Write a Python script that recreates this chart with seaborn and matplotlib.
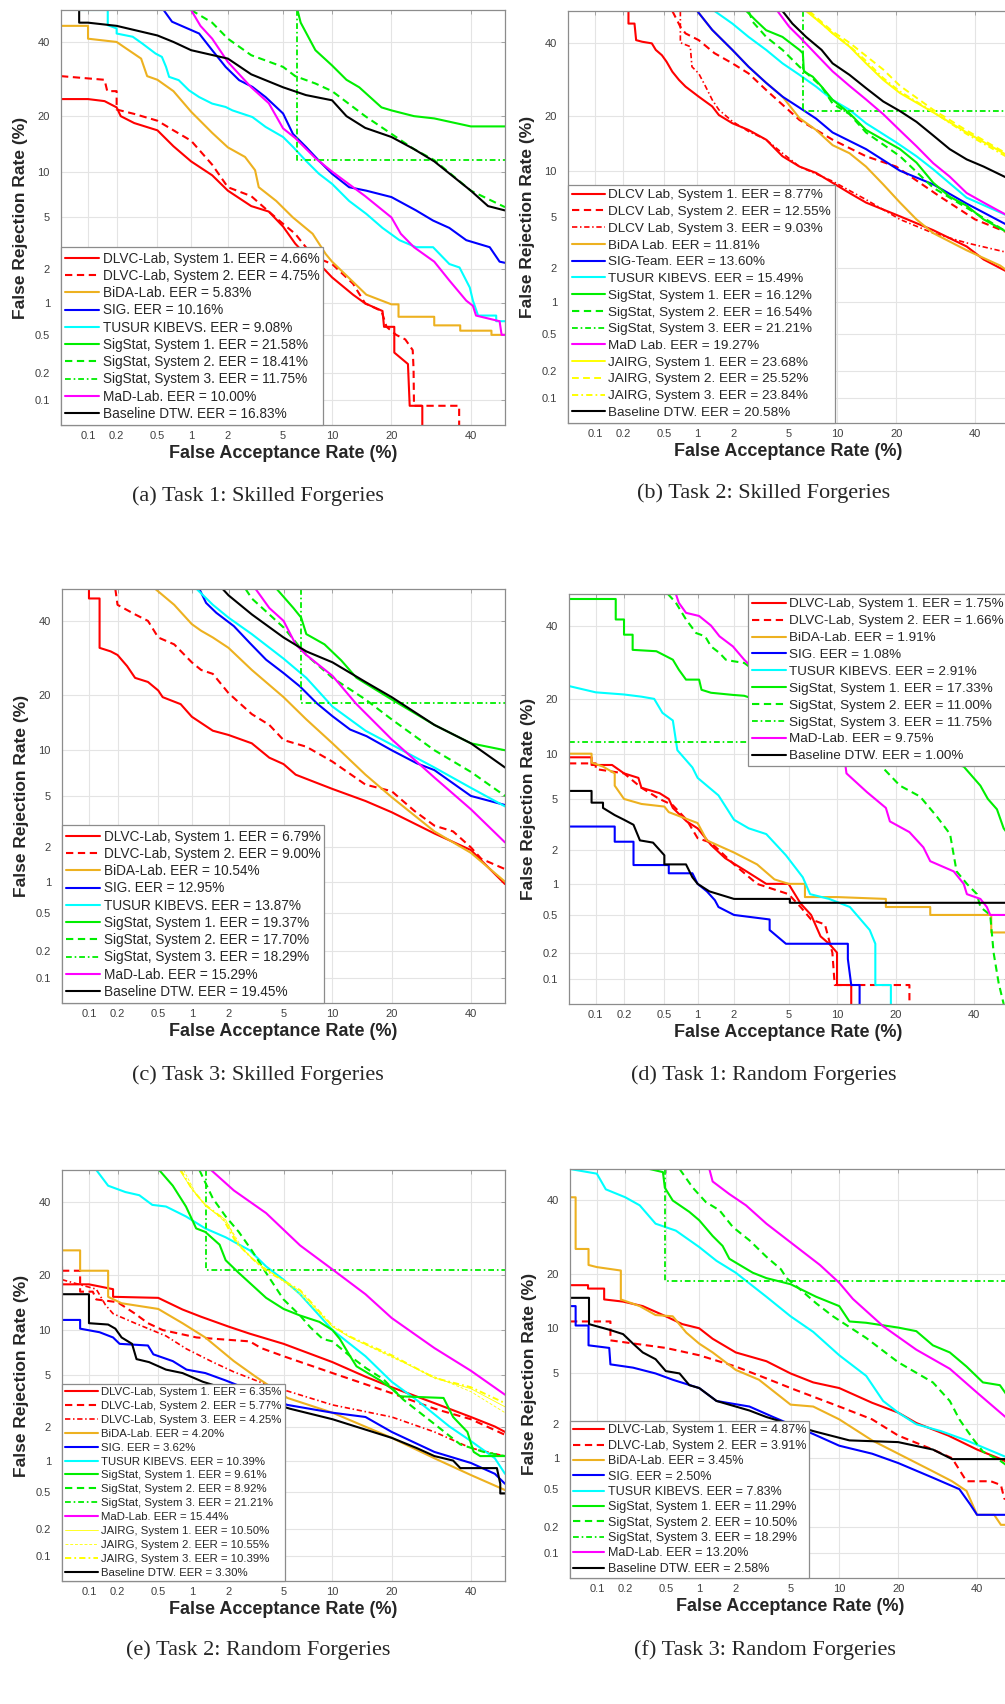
from statistics import NormalDist

import matplotlib
matplotlib.use("Agg")
import matplotlib.pyplot as plt
import numpy as np
import seaborn as sns
from matplotlib.ticker import NullLocator

# ---------------------------------------------------------------- data
# every curve: list of (FAR %, FRR %) points

TICKS = [0.1, 0.2, 0.5, 1, 2, 5, 10, 20, 40]
TICK_LABELS = ["0.1", "0.2", "0.5", "1", "2", "5", "10", "20", "40"]

# (a) Task 1: Skilled Forgeries
A_LABELS = [
    "DLVC-Lab, System 1. EER = 4.66%", "DLVC-Lab, System 2. EER = 4.75%",
    "BiDA-Lab. EER = 5.83%", "SIG. EER = 10.16%", "TUSUR KIBEVS. EER = 9.08%",
    "SigStat, System 1. EER = 21.58%", "SigStat, System 2. EER = 18.41%",
    "SigStat, System 3. EER = 11.75%", "MaD-Lab. EER = 10.00%",
    "Baseline DTW. EER = 16.83%",
]
A_CURVES = [
    [(0.05, 24), (0.1, 24), (0.15, 23.5), (0.2, 22), (0.22, 20), (0.3, 18.5), (0.5, 17), (0.7, 14),
     (1, 11.5), (1.5, 9.5), (2, 7.6), (3, 6), (4, 5.5), (5, 4.3), (6, 3.2), (7, 2.6), (9, 2), (10, 1.7),
     (13, 1.2), (15, 1.0), (18.2, 0.85), (18.5, 0.6), (20.6, 0.6), (20.6, 0.33), (23.6, 0.25),
     (24, 0.085), (27, 0.085), (27, 0.05)],
    [(0.05, 30), (0.15, 29), (0.16, 26), (0.2, 26), (0.2, 21.5), (0.3, 20.5), (0.5, 19), (0.7, 17),
     (1, 15), (1.5, 11), (2, 8), (3, 7), (4, 5.5), (5, 4.5), (6, 3.8), (7, 3.0), (8, 2.5), (10, 2.2),
     (13, 1.5), (15, 1.0), (18, 0.85), (19, 0.6), (21, 0.5), (23, 0.45), (24.7, 0.35), (24.9, 0.22),
     (25, 0.085), (36.7, 0.085), (36.7, 0.05)],
    [(0.05, 45), (0.1, 45), (0.1, 41), (0.2, 40), (0.25, 38), (0.35, 35), (0.4, 30), (0.5, 29),
     (0.7, 26), (1, 21), (1.5, 16.5), (2, 13.8), (2.7, 12.2), (3.2, 10.2), (3.4, 8), (4.5, 6.5),
     (5.8, 5), (7.7, 3.8), (9.2, 2.65), (10, 2.3), (15.2, 1.2), (20, 0.98), (21.5, 0.98), (21.5, 0.75),
     (30, 0.75), (30, 0.62), (37, 0.62), (37, 0.55), (46, 0.55), (46, 0.5), (50, 0.5)],
    [(0.57, 50), (0.68, 46.3), (1.17, 42.6), (1.5, 37.5), (1.92, 32.6), (2.44, 28.9), (3.06, 27.1),
     (3.8, 24.5), (5, 20.6), (5.8, 16.3), (7, 13.9), (8.4, 11.6), (10, 9.7), (12.4, 8), (15.2, 7.6),
     (20, 6.9), (25.5, 5.6), (29.7, 4.75), (34, 4.2), (38.7, 3.4), (45.5, 3.0), (48.4, 2.3), (50, 2.25)],
    [(0.079, 50), (0.162, 50), (0.162, 45.2), (0.2, 44.2), (0.2, 42.6), (0.29, 41.6), (0.36, 39.5),
     (0.48, 36.5), (0.55, 35.5), (0.6, 32.6), (0.64, 29.8), (0.78, 28.9), (0.96, 26.2), (1.17, 24.5),
     (1.5, 22.9), (1.92, 22.1), (2.17, 21.3), (3.06, 19.8), (3.8, 17.7), (5, 15.7), (5.8, 13.9),
     (7, 11.6), (8.4, 9.7), (10, 8.4), (12.4, 6.5), (15.2, 5.3), (18.2, 4.2), (21.7, 3.4), (25.5, 3.0),
     (29.7, 3.0), (34, 2.2), (36.8, 2.06), (39.7, 1.39), (40.6, 1.06), (42.1, 0.77), (47.4, 0.77),
     (47.4, 0.68), (50, 0.68)],
    [(6.2, 50), (6.5, 46), (8, 37.5), (10, 33), (12, 29), (14, 27), (18, 22), (20, 21.3), (25, 20),
     (30, 19.5), (40, 17.8), (50, 17.8)],
    [(1, 50), (1.5, 46), (2, 41), (3, 36), (5, 32.6), (6, 30), (8, 28), (10, 26), (15, 20),
     (20, 16.3), (25, 13.5), (30, 11.7), (40, 7.6), (50, 5.9)],
    [(6.2, 50), (6.2, 11.75), (50, 11.75)],
    [(1, 50), (1.2, 45), (1.5, 41), (2, 34), (3, 27), (4, 23), (5, 17.4), (6, 15.5), (8, 12), (10, 10),
     (15, 7), (20, 5), (22, 3.8), (25, 3.0), (30, 2.3), (34, 1.6), (38.7, 1.06), (40.6, 0.95),
     (41.5, 0.77), (48.4, 0.68), (49, 0.5), (50, 0.5)],
    [(0.08, 50), (0.08, 46), (0.1, 46), (0.2, 45), (0.5, 42), (0.7, 40), (1, 37.5), (2, 35),
     (3, 30.5), (5, 27), (7, 25), (10, 23.7), (12, 20), (15, 17.5), (20, 15.7), (25, 13.5),
     (30, 11.5), (40, 7.6), (45, 6), (50, 5.6)],
]

# (b) Task 2: Skilled Forgeries
B_LABELS = [
    "DLCV Lab, System 1. EER = 8.77%", "DLCV Lab, System 2. EER = 12.55%",
    "DLCV Lab, System 3. EER = 9.03%", "BiDA Lab. EER = 11.81%", "SIG-Team. EER = 13.60%",
    "TUSUR KIBEVS. EER = 15.49%", "SigStat, System 1. EER = 16.12%",
    "SigStat, System 2. EER = 16.54%", "SigStat, System 3. EER = 21.21%",
    "MaD Lab. EER = 19.27%", "JAIRG, System 1. EER = 23.68%", "JAIRG, System 2. EER = 25.52%",
    "JAIRG, System 3. EER = 23.84%", "Baseline DTW. EER = 20.58%",
]
B_CURVES = [
    [(0.226, 50), (0.226, 46), (0.26, 46), (0.27, 40.8), (0.31, 40.3), (0.385, 39.8), (0.42, 37.8),
     (0.48, 36.2), (0.53, 34.3), (0.6, 31.4), (0.69, 29.1), (0.79, 27.3), (1.03, 24.7), (1.34, 22.3),
     (1.52, 20.3), (1.95, 18.5), (2.6, 17.1), (3.5, 15.2), (4.55, 12.3), (5.9, 10.7), (7.5, 9.8),
     (9.4, 8.5), (11.7, 7.3), (14.3, 6.3), (20.8, 5.05), (28.6, 4.0), (37.6, 3.0), (42.5, 2.36),
     (50, 1.83)],
    [(0.6, 50), (0.71, 45), (0.79, 42.9), (1.03, 40.8), (1.4, 36.8), (1.95, 33.8), (2.6, 30.9),
     (3.5, 26.4), (5.9, 19.2), (9.4, 15.2), (14.3, 12.3), (20, 10.7), (30, 7), (40, 4.8), (50, 3.8)],
    [(0.71, 50), (0.71, 40), (0.87, 38.8), (0.9, 32.8), (1.03, 30.9), (1.18, 27.3), (1.34, 23.9),
     (1.52, 21.5), (1.95, 18.9), (2.6, 16.8), (3.5, 15.2), (4.55, 12.8), (5.9, 10.7), (9.4, 8.7),
     (14.3, 6.6), (20.8, 4.8), (28.6, 3.8), (37.6, 3.2), (50, 2.67)],
    [(1, 50), (1.34, 44), (1.95, 37.8), (2.6, 32.8), (3.5, 28.3), (4.55, 24.7), (5.9, 19.6),
     (7.5, 17.1), (9.4, 14.2), (11.7, 12.8), (14.3, 10.7), (17.4, 8.3), (20.8, 6.3), (24.5, 4.8),
     (28.6, 3.8), (37.6, 2.8), (47.4, 2.1), (50, 1.85)],
    [(1, 50), (1.34, 44), (1.95, 37.8), (2.6, 32.8), (3.5, 28.3), (4.55, 24.7), (5.9, 22),
     (7.5, 19.5), (9.4, 16.6), (14.3, 13.5), (20.8, 10.1), (28.6, 8.3), (37.6, 6.2), (50, 4.3)],
    [(1.4, 50), (1.95, 46), (2.6, 41.8), (3.5, 37.8), (4.55, 33.8), (5.9, 30.5), (7.5, 27.3),
     (9.4, 23.9), (11.7, 21.5), (14.3, 18.5), (20, 14.7), (24.5, 12.3), (28.6, 10.3), (37.6, 6.8),
     (50, 5.05)],
    [(2.5, 50), (2.94, 47), (3.5, 43.9), (4.55, 41.8), (5.9, 37.8), (6.2, 36.8), (6.3, 31.4),
     (7.15, 30), (8.1, 27.3), (9.4, 23.9), (11.7, 20.7), (14.3, 17.1), (17.4, 15.2), (20.8, 13.5),
     (24.5, 11.3), (28.6, 8.5), (32.9, 6.9), (37.6, 6.0), (42.5, 4.8), (50, 3.8)],
    [(2.6, 50), (2.8, 46.5), (3.5, 41.8), (4.55, 37.8), (5.9, 32.8), (8.1, 27.3), (9.4, 23),
     (11.7, 20.5), (14.3, 16.6), (20.8, 12.3), (28.6, 7.9), (37.6, 5.8), (50, 3.8)],
    [(6.2, 50), (6.2, 21.21), (50, 21.21)],
    [(4.2, 50), (5.05, 45), (5.9, 41.8), (7.5, 36.5), (9.4, 31.5), (11.7, 27.5), (14.3, 24),
     (17.4, 20.5), (20.8, 17), (24.5, 14), (28.6, 11.2), (32.9, 9.3), (37.6, 7.3), (42.5, 6.3),
     (50, 5.05)],
    [(6.5, 50), (8.1, 46), (9.4, 42.9), (11.7, 38.8), (14.3, 33.8), (17.4, 29.1), (20.8, 25.6),
     (28.6, 20.9), (37.6, 16.6), (50, 12.3)],
    [(6.8, 50), (8.1, 46.5), (9.4, 43.5), (11.7, 40), (14.3, 36), (17.4, 32), (20.8, 27.5),
     (28.6, 21.5), (37.6, 17), (50, 12.5)],
    [(6.6, 50), (8.1, 46), (9.4, 43), (11.7, 39), (14.3, 34.5), (17.4, 29.6), (20.8, 26),
     (28.6, 21), (37.6, 16.3), (50, 12)],
    [(4.55, 50), (5.3, 46), (6.5, 41.8), (8.1, 37.8), (9.4, 33.8), (11.7, 30.5), (14.3, 26.9),
     (17.4, 23.5), (20.8, 21.2), (24.5, 18.8), (28.6, 16), (32.9, 13.5), (37.6, 11.8), (42.5, 10.7),
     (50, 9)],
]

# (c) Task 3: Skilled Forgeries
C_LABELS = [
    "DLVC-Lab, System 1. EER = 6.79%", "DLVC-Lab, System 2. EER = 9.00%",
    "BiDA-Lab. EER = 10.54%", "SIG. EER = 12.95%", "TUSUR KIBEVS. EER = 13.87%",
    "SigStat, System 1. EER = 19.37%", "SigStat, System 2. EER = 17.70%",
    "SigStat, System 3. EER = 18.29%", "MaD-Lab. EER = 15.29%",
    "Baseline DTW. EER = 19.45%",
]
C_CURVES = [
    [(0.1, 50), (0.1, 47), (0.13, 47), (0.13, 32), (0.17, 31), (0.2, 30), (0.25, 27), (0.3, 24),
     (0.4, 23), (0.5, 21), (0.55, 19.5), (0.8, 18), (1, 15.5), (1.5, 13), (2, 12.3), (3, 11), (4, 9),
     (5, 8.2), (6, 7), (8, 6.2), (10, 5.6), (15, 4.6), (20, 3.8), (30, 2.6), (40, 1.9), (50, 0.95)],
    [(0.19, 50), (0.2, 45), (0.3, 42), (0.4, 40), (0.5, 35), (0.7, 33), (1, 28), (1.2, 26),
     (1.5, 25), (2, 20.4), (3, 16), (4, 14), (5, 11.5), (7, 10.5), (10, 8.5), (15, 6), (20, 5.4),
     (25, 3.9), (30, 3), (35, 2.7), (40, 2), (43, 1.6), (50, 1.3)],
    [(0.47, 50), (0.7, 45), (1, 39), (1.2, 37), (1.5, 35), (2, 32), (3, 26), (5, 19.5), (7, 15),
     (10, 11), (15, 7), (20, 4.9), (30, 2.7), (40, 1.8), (50, 1.0)],
    [(1.16, 50), (1.32, 45.6), (1.6, 42.5), (2.2, 38.4), (2.9, 33.4), (3.8, 28.7), (5, 25.2),
     (6.4, 21.9), (8.1, 18.2), (10, 15.6), (12.5, 13.2), (15.2, 12.1), (20, 10), (25.6, 8.3),
     (30, 7.5), (40, 5.0), (50, 4.3)],
    [(1.1, 50), (1.5, 45), (2, 41), (3, 36), (5, 29), (7, 24), (10, 17.5), (15, 13), (20, 10.8),
     (30, 7.8), (40, 5.7), (50, 4.2)],
    [(4.5, 50), (5.8, 44), (6.5, 41), (7, 36), (9, 33), (11.2, 28.5), (13.5, 24), (20, 19), (30, 14),
     (40, 11), (50, 10)],
    [(2.7, 50), (3, 47), (4, 42), (5, 38), (7, 30), (10, 24), (15, 19), (20, 15), (30, 10),
     (40, 7.3), (50, 5)],
    [(6.5, 50), (6.5, 18.29), (50, 18.29)],
    [(3.2, 50), (4, 44), (5, 40), (6, 33), (7, 30), (10, 24.5), (13.5, 18), (20, 11.6), (30, 6.7),
     (40, 4), (50, 2.2)],
    [(1.8, 50), (2, 48), (3, 42), (5, 35), (7, 31), (10, 28), (15, 23), (20, 19.5), (30, 14),
     (40, 11), (50, 7.8)],
]

# (d) Task 1: Random Forgeries
D_LABELS = [
    "DLVC-Lab, System 1. EER = 1.75%", "DLVC-Lab, System 2. EER = 1.66%",
    "BiDA-Lab. EER = 1.91%", "SIG. EER = 1.08%", "TUSUR KIBEVS. EER = 2.91%",
    "SigStat, System 1. EER = 17.33%", "SigStat, System 2. EER = 11.00%",
    "SigStat, System 3. EER = 11.75%", "MaD-Lab. EER = 9.75%", "Baseline DTW. EER = 1.00%",
]
D_CURVES = [
    [(0.05, 9.5), (0.09, 9.5), (0.09, 8.5), (0.15, 8.5), (0.2, 7.5), (0.28, 7), (0.3, 6), (0.45, 5.5),
     (0.55, 5), (0.6, 4.3), (0.8, 3.4), (1, 3.0), (1.3, 2.2), (1.7, 1.7), (2.5, 1.3), (3.5, 1.0),
     (5, 1.0), (6, 0.65), (7, 0.5), (8, 0.3), (9, 0.25), (10, 0.2), (10, 0.085), (12, 0.085),
     (12, 0.05)],
    [(0.05, 8.7), (0.1, 8.7), (0.1, 8), (0.2, 7.5), (0.3, 6), (0.45, 5), (0.6, 4.5), (0.8, 3.5),
     (1, 2.5), (1.3, 2.3), (2, 1.5), (3, 1.0), (5, 0.8), (6, 0.6), (7, 0.45), (8.5, 0.4), (9.4, 0.2),
     (9.7, 0.085), (23, 0.085), (23, 0.05)],
    [(0.05, 10), (0.09, 10), (0.09, 8.8), (0.12, 8.3), (0.16, 7.5), (0.16, 6.2), (0.2, 5), (0.3, 4.6),
     (0.5, 4.4), (0.55, 4), (1, 3.3), (1.2, 2.4), (2, 1.9), (3, 1.5), (4, 1.1), (5, 1.0), (6.4, 1.0),
     (6.4, 0.75), (10, 0.75), (18, 0.72), (18, 0.6), (28, 0.6), (28, 0.5), (45, 0.5), (45, 0.33),
     (50, 0.33)],
    [(0.05, 3.1), (0.16, 3.1), (0.16, 2.34), (0.25, 2.34), (0.25, 1.48), (0.55, 1.48), (0.55, 1.25),
     (0.9, 1.25), (1, 1.0), (1.2, 0.85), (1.4, 0.7), (1.5, 0.6), (2, 0.5), (3.7, 0.45), (3.7, 0.35),
     (4.8, 0.25), (11.5, 0.25), (11.5, 0.17), (12, 0.085), (13.3, 0.085), (13.3, 0.05)],
    [(0.05, 23), (0.1, 21.5), (0.2, 21), (0.3, 20.5), (0.4, 20), (0.48, 17), (0.6, 15.5),
     (0.66, 10.5), (0.9, 8.2), (1, 7), (1.5, 5.3), (2, 3.5), (2.6, 3), (3.5, 2.7), (4.8, 1.8),
     (6.2, 1.15), (6.9, 0.8), (9, 0.72), (11.8, 0.6), (15, 0.35), (16, 0.25), (16, 0.085),
     (19, 0.085), (19, 0.05)],
    [(0.05, 48.4), (0.164, 48.4), (0.164, 41.9), (0.2, 41.9), (0.2, 37.2), (0.245, 37.2),
     (0.245, 32.7), (0.42, 32.3), (0.6, 29.9), (0.68, 27.2), (0.79, 24.6), (1.03, 24.6), (1.08, 22.1),
     (1.3, 21.4), (1.96, 20.9), (2.4, 20.7), (33, 8.8), (37, 8.3), (41.8, 6.2), (44, 5), (46.7, 4.2),
     (48.7, 3), (50, 2.7)],
    [(0.54, 50), (0.64, 47.2), (0.79, 41.9), (0.97, 37.7), (1.16, 36.7), (1.3, 33.7), (1.53, 31.8),
     (1.72, 29.9), (1.96, 29.5), (2.4, 29), (16.5, 9), (16.9, 8.5), (20.9, 6.2), (25.5, 5.2),
     (29.7, 3.7), (33.2, 2.7), (35, 1.3), (37.9, 1.0), (40.8, 0.8), (41.8, 0.6), (44.7, 0.5),
     (45.7, 0.2), (47.2, 0.09), (48.7, 0.05)],
    [(0.05, 11.75), (50, 11.75)],
    [(0.64, 50), (0.68, 47.2), (0.79, 44), (1.03, 43), (1.3, 40), (1.53, 36.7), (1.96, 33.7),
     (2.4, 29.9), (11, 9.5), (11.3, 7.5), (14.5, 5.6), (18, 4.3), (18.8, 3.4), (23, 2.8), (26.3, 2.1),
     (28, 1.6), (34.2, 1.3), (37, 1.0), (37.9, 0.8), (41.8, 0.72), (43.7, 0.6), (44.7, 0.5),
     (50, 0.5)],
    [(0.05, 5.7), (0.09, 5.7), (0.09, 4.7), (0.12, 4.7), (0.12, 4.3), (0.16, 3.8), (0.2, 3.5),
     (0.25, 3.2), (0.29, 2.4), (0.39, 2.3), (0.5, 1.8), (0.5, 1.5), (0.79, 1.5), (0.9, 1.15),
     (1, 1.0), (1.26, 0.85), (2, 0.72), (5.1, 0.72), (5.1, 0.66), (50, 0.66)],
]

# (e) Task 2: Random Forgeries
E_LABELS = [
    "DLVC-Lab, System 1. EER = 6.35%", "DLVC-Lab, System 2. EER = 5.77%",
    "DLVC-Lab, System 3. EER = 4.25%", "BiDA-Lab. EER = 4.20%", "SIG. EER = 3.62%",
    "TUSUR KIBEVS. EER = 10.39%", "SigStat, System 1. EER = 9.61%",
    "SigStat, System 2. EER = 8.92%", "SigStat, System 3. EER = 21.21%",
    "MaD-Lab. EER = 15.44%", "JAIRG, System 1. EER = 10.50%", "JAIRG, System 2. EER = 10.55%",
    "JAIRG, System 3. EER = 10.39%", "Baseline DTW. EER = 3.30%",
]
E_CURVES = [
    [(0.05, 18), (0.1, 18), (0.18, 17), (0.18, 15.5), (0.5, 15.3), (0.83, 13.2), (1.2, 12),
     (2, 10.5), (2.9, 9.5), (5, 8.2), (10, 6.2), (15, 4.9), (20, 4.1), (30, 3.1), (40, 2.4),
     (47, 2.0), (50, 1.8)],
    [(0.05, 21), (0.08, 21), (0.08, 16.5), (0.11, 16.5), (0.12, 15), (0.2, 14.5), (0.3, 12.5),
     (0.4, 11), (0.55, 10), (1.1, 9), (2.9, 8.5), (3.5, 7.7), (5, 6.8), (10, 5.2), (20, 3.7),
     (30, 2.8), (40, 2.3), (50, 1.7)],
    [(0.05, 19), (0.12, 17), (0.15, 14), (0.18, 12.5), (0.3, 11), (0.59, 9.2), (0.9, 7.6),
     (1.5, 6.2), (2.2, 5.3), (3.8, 4.3), (10, 3.0), (20, 2.4), (30, 1.8), (40, 1.3), (50, 1.1)],
    [(0.05, 26), (0.08, 26), (0.08, 21), (0.16, 21), (0.16, 15.5), (0.22, 14.3), (0.5, 13.3),
     (0.83, 11), (1.3, 9), (2.2, 6.3), (3.2, 4.9), (5.3, 3.4), (10, 2.6), (20, 1.6), (30, 1.05),
     (40, 0.73), (50, 0.52)],
    [(0.05, 11.5), (0.08, 11.5), (0.08, 10.2), (0.13, 9.7), (0.18, 9), (0.21, 8.2), (0.4, 8),
     (0.45, 7), (0.68, 6.3), (0.9, 5.5), (1.3, 5.2), (1.9, 4.6), (5.3, 3.0), (10, 2.6), (15, 2.4),
     (20, 1.8), (30, 1.2), (40, 0.95), (47, 0.75), (50, 0.6)],
    [(0.12, 50), (0.16, 45), (0.24, 43), (0.33, 42), (0.44, 39), (0.59, 38.5), (0.89, 35.5),
     (1.3, 32), (1.9, 29.5), (2.9, 26), (3.8, 22), (5, 19), (6.4, 16), (10, 10), (15, 6.8),
     (20, 4.5), (26, 3.2), (34, 2), (40, 1.5), (47, 1.05), (50, 0.75)],
    [(0.51, 50), (0.68, 45), (0.89, 38.5), (1.09, 32), (1.3, 31), (1.7, 27.5), (1.9, 23.5),
     (2.4, 20.5), (3.8, 15.3), (5, 13.3), (6.4, 12.2), (8.4, 11.2), (10, 10), (11, 8.8), (12.5, 6.8),
     (13.5, 5.8), (17.7, 4.6), (20, 4.0), (21.8, 3.5), (32.4, 3.4), (35, 2.4), (39, 1.8), (40.8, 1.2),
     (42.7, 1.1), (50, 1.1)],
    [(1.16, 50), (1.5, 41), (1.9, 35.5), (2.4, 31), (3, 26), (3.8, 20.5), (5, 15), (6.4, 12.2),
     (7.4, 10.4), (8.8, 8.8), (10, 8.5), (12.5, 6.8), (15.2, 5.6), (18.3, 4.7), (22.5, 3.3), (30, 2.1),
     (37, 1.4), (43.7, 1.2), (50, 1.1)],
    [(1.32, 50), (1.32, 21.21), (50, 21.21)],
    [(1.45, 50), (2.2, 43.5), (3.8, 36.5), (6.4, 27.3), (10, 21.3), (15, 16), (20, 11.8), (30, 7.7),
     (40, 5.4), (50, 3.6)],
    [(0.78, 50), (1.02, 43.5), (1.32, 38.5), (1.9, 34.5), (2.4, 27.3), (3.05, 23.8), (3.8, 21.3),
     (6.4, 16.6), (10, 10.5), (12.5, 9), (20, 6.8), (30, 4.8), (40, 4), (50, 2.9)],
    [(0.85, 50), (1.1, 42), (1.4, 38), (2, 33), (2.5, 27), (3.2, 23), (4, 21), (6.4, 16), (10, 10.5),
     (13, 8.8), (20, 6.7), (30, 4.9), (40, 3.8), (50, 2.6)],
    [(0.8, 50), (1.0, 44), (1.3, 39), (1.8, 35), (2.3, 28), (3, 24), (3.8, 21), (6.4, 16.8),
     (10, 10.6), (12.5, 9.1), (20, 6.9), (30, 4.8), (40, 4.1), (50, 3.1)],
    [(0.05, 22), (0.05, 16), (0.1, 16), (0.1, 11), (0.16, 10.8), (0.19, 10.2), (0.22, 9), (0.28, 8.2),
     (0.31, 6.5), (0.41, 6.2), (0.59, 5.5), (0.83, 5.2), (1.24, 4.5), (5.5, 2.8), (10, 2.3), (20, 1.6),
     (25.6, 1.3), (30, 1.1), (35, 1.0), (37, 0.85), (47.6, 0.85), (48.6, 0.6), (48.6, 0.48),
     (50, 0.48)],
]

# (f) Task 3: Random Forgeries
F_LABELS = [
    "DLVC-Lab, System 1. EER = 4.87%", "DLVC-Lab, System 2. EER = 3.91%",
    "BiDA-Lab. EER = 3.45%", "SIG. EER = 2.50%", "TUSUR KIBEVS. EER = 7.83%",
    "SigStat, System 1. EER = 11.29%", "SigStat, System 2. EER = 10.50%",
    "SigStat, System 3. EER = 18.29%", "MaD-Lab. EER = 13.20%", "Baseline DTW. EER = 2.58%",
]
F_CURVES = [
    [(0.05, 17.5), (0.08, 17.5), (0.08, 16.8), (0.12, 16.8), (0.12, 14.7), (0.19, 14.3), (0.3, 13.5),
     (0.5, 11.8), (0.71, 10.6), (1, 10), (1.3, 8.6), (2, 7), (3.4, 6.1), (5, 5), (7, 4.3), (10, 3.9),
     (15, 3.0), (20, 2.5), (24, 2.05), (32, 1.6), (40, 1.2), (47, 0.98), (50, 0.88)],
    [(0.05, 11), (0.14, 11), (0.14, 8.4), (0.5, 7.5), (1, 6.7), (2, 5.6), (3.4, 4.6), (5, 3.9),
     (10, 2.8), (15, 2.2), (20, 1.6), (28, 1.2), (33, 1.0), (37, 0.6), (44, 0.6), (47, 0.55),
     (48, 0.4), (50, 0.38)],
    [(0.05, 41), (0.058, 41), (0.058, 26), (0.081, 26), (0.081, 22), (0.1, 21.5), (0.18, 20.7),
     (0.18, 14.7), (0.28, 13.5), (0.4, 12), (0.58, 11.8), (0.77, 9.4), (1, 8), (1.3, 7), (2, 5.3),
     (3, 4.5), (5, 2.9), (7, 2.8), (10, 2.2), (15, 1.45), (20, 1.1), (28, 0.75), (33, 0.6),
     (37, 0.48), (40, 0.27), (45, 0.27), (47, 0.21), (50, 0.21)],
    [(0.05, 13.5), (0.058, 13.5), (0.058, 10.4), (0.081, 10.4), (0.081, 7.8), (0.136, 7.5),
     (0.14, 5.8), (0.24, 5.5), (0.4, 5), (0.58, 4.5), (1, 3.9), (1.4, 3.1), (2.55, 2.8), (3.8, 2.3),
     (7, 1.65), (10, 1.3), (15, 1.1), (20, 0.9), (28, 0.65), (35, 0.5), (38, 0.35), (40, 0.27),
     (50, 0.27)],
    [(0.05, 50), (0.1, 48.5), (0.125, 43.5), (0.2, 41), (0.28, 38.5), (0.4, 33), (0.62, 31),
     (1, 26.5), (1.4, 23), (2, 20.2), (3.4, 15.2), (5, 11.8), (7, 9.5), (10, 6.7), (14, 4.8),
     (17, 3.1), (20, 2.5), (24, 2), (30, 1.75), (37, 1.45), (44.7, 1.15), (50, 0.98)],
    [(0.35, 50), (0.47, 49), (0.49, 44), (0.58, 40), (0.82, 36.5), (1, 34), (1.3, 29.5),
     (1.57, 26.8), (1.78, 23.5), (2.7, 20.2), (3.4, 19), (5, 17.7), (7.3, 15.2), (10, 13.5),
     (11.4, 11), (14, 10.8), (20, 10.1), (24, 9.6), (28, 7.8), (32.4, 7), (37, 5.6), (41.7, 4.3),
     (46.7, 4.1), (50, 3.1)],
    [(0.67, 50), (0.88, 44), (1.14, 39.5), (1.48, 37), (1.9, 32), (2.55, 28.3), (3.4, 24), (4.3, 21),
     (4.7, 19), (5.7, 16.8), (7.3, 14), (9.2, 11.8), (14, 8.7), (20, 6), (28, 4.3), (32.4, 3.1),
     (35, 2.2), (38.8, 1.5), (41.7, 1.15), (46.7, 0.95), (50, 0.8)],
    [(0.49, 50), (0.49, 18.29), (50, 18.29)],
    [(1.22, 50), (1.3, 46), (1.78, 42), (2.4, 38.5), (3.4, 33), (4.4, 29.5), (5.7, 26), (7.7, 22),
     (10, 18), (11.9, 14.8), (17, 10.3), (24, 7.3), (32.4, 5.4), (40, 3.6), (50, 2.1)],
    [(0.05, 15), (0.082, 15), (0.082, 10.6), (0.136, 9.8), (0.19, 9.2), (0.24, 8), (0.3, 7),
     (0.4, 6.3), (0.5, 5.2), (0.67, 5), (0.82, 4.1), (1, 3.9), (1.4, 3.1), (2, 2.8), (2.55, 2.6),
     (3.4, 2.3), (7, 1.75), (11.4, 1.45), (20, 1.4), (28, 1.2), (33, 0.98), (50, 0.98)],
]

# ---------------------------------------------------------------- styles
RED, ORANGE, BLUE, CYAN = "#ff0000", "#edb120", "#0000ff", "#00ffff"
GREEN, MAGENTA, YELLOW, BLACK = "#00ee00", "#ff00ff", "#ffff00", "#000000"
DASH = (0, (3.5, 2.2))
DASHDOT = (0, (3.2, 1.6, 0.9, 1.6))

STYLE = {
    "dl1": (RED, "-", 1.5), "dl2": (RED, DASH, 1.5), "dl3": (RED, DASHDOT, 1.2),
    "bida": (ORANGE, "-", 1.5), "sig": (BLUE, "-", 1.5), "tusur": (CYAN, "-", 1.5),
    "ss1": (GREEN, "-", 1.5), "ss2": (GREEN, DASH, 1.5), "ss3": (GREEN, DASHDOT, 1.3),
    "mad": (MAGENTA, "-", 1.5), "ja1": (YELLOW, "-", 1.4), "ja2": (YELLOW, DASH, 1.4),
    "ja3": (YELLOW, DASHDOT, 1.4), "base": (BLACK, "-", 1.5),
}
KEYS_10 = ["dl1", "dl2", "bida", "sig", "tusur", "ss1", "ss2", "ss3", "mad", "base"]
KEYS_14 = ["dl1", "dl2", "dl3", "bida", "sig", "tusur", "ss1", "ss2", "ss3", "mad",
           "ja1", "ja2", "ja3", "base"]

FIG_W, FIG_H = 1005, 1704

sns.set_style("white")
plt.rcParams["font.family"] = ["Liberation Sans", "DejaVu Sans"]

_nd = NormalDist()
_ppf = np.vectorize(_nd.inv_cdf, otypes=[float])
_cdf = np.vectorize(_nd.cdf, otypes=[float])


def probit(p):
    p = np.clip(np.asarray(p, dtype=float) / 100.0, 1e-9, 1 - 1e-9)
    return _ppf(p)


def inv_probit(z):
    z = np.clip(np.asarray(z, dtype=float), -12, 12)
    return _cdf(z) * 100.0


def px_rect(left, top, right, bottom):
    return [left / FIG_W, 1 - bottom / FIG_H, (right - left) / FIG_W, (bottom - top) / FIG_H]


def draw_panel(fig, box, labels, curves, keys, caption, cap_xy, legend_loc, leg_kw,
               overrides=None):
    ax = fig.add_axes(px_rect(*box))
    ax.set_xscale("function", functions=(probit, inv_probit))
    ax.set_yscale("function", functions=(probit, inv_probit))
    for label, pts, key in zip(labels, curves, keys):
        color, ls, lw = STYLE[key]
        if overrides and key in overrides:
            lw = overrides[key]
        far = [p[0] for p in pts]
        frr = [p[1] for p in pts]
        sns.lineplot(x=far, y=frr, ax=ax, sort=False, estimator=None, color=color,
                     linestyle=ls, linewidth=lw, label=label, legend=False)
    ax.set_xlim(0.05, 50)
    ax.set_ylim(0.05, 50)
    ax.set_xticks(TICKS, TICK_LABELS)
    ax.set_yticks(TICKS, TICK_LABELS)
    ax.xaxis.set_minor_locator(NullLocator())
    ax.yaxis.set_minor_locator(NullLocator())
    ax.grid(True, color="#e4e4e4", linewidth=0.8)
    ax.set_axisbelow(True)
    ax.tick_params(which="major", direction="in", length=3, width=0.6, color="#999999",
                   labelcolor="#404040", labelsize=8, top=True, right=True)
    ax.tick_params(axis="x", pad=4)
    ax.tick_params(axis="y", pad=8)
    for sp in ax.spines.values():
        sp.set_color("#8c8c8c")
        sp.set_linewidth(0.9)
    ax.set_xlabel("False Acceptance Rate (%)", fontsize=13, fontweight="bold", labelpad=3)
    ax.set_ylabel("False Rejection Rate (%)", fontsize=12.5, fontweight="bold", labelpad=5)

    leg = ax.legend(loc=legend_loc, frameon=True, fancybox=False, framealpha=1,
                    edgecolor="#8c8c8c", borderaxespad=0, handletextpad=0.25, **leg_kw)
    leg.get_frame().set_linewidth(0.9)

    fig.text(cap_xy[0] / FIG_W, 1 - cap_xy[1] / FIG_H, caption, ha="center", va="center",
             fontsize=16, family=["Liberation Serif", "DejaVu Serif"])
    return ax


fig = plt.figure(figsize=(FIG_W / 100, FIG_H / 100), dpi=100)

draw_panel(fig, (61, 10, 505, 425), A_LABELS, A_CURVES, KEYS_10,
           "(a) Task 1: Skilled Forgeries", (258, 496), "lower left",
           dict(fontsize=9.8, handlelength=2.5, labelspacing=0.24, borderpad=0.3))
draw_panel(fig, (568, 11, 1009, 423), B_LABELS, B_CURVES, KEYS_14,
           "(b) Task 2: Skilled Forgeries", (764, 493), "lower left",
           dict(fontsize=9.7, handlelength=2.45, labelspacing=0.32, borderpad=0.3))
draw_panel(fig, (62, 589, 505, 1003), C_LABELS, C_CURVES, KEYS_10,
           "(c) Task 3: Skilled Forgeries", (258, 1075), "lower left",
           dict(fontsize=9.8, handlelength=2.5, labelspacing=0.24, borderpad=0.3))
draw_panel(fig, (569, 594, 1008, 1004), D_LABELS, D_CURVES, KEYS_10,
           "(d) Task 1: Random Forgeries", (764, 1075), "upper right",
           dict(fontsize=9.7, handlelength=2.5, labelspacing=0.33, borderpad=0.3))
draw_panel(fig, (62, 1170, 505, 1581), E_LABELS, E_CURVES, KEYS_14,
           "(e) Task 2: Random Forgeries", (258, 1650), "lower left",
           dict(fontsize=8.2, handlelength=2.9, labelspacing=0.34, borderpad=0.3),
           overrides={"ja1": 0.6, "ja2": 0.6})
draw_panel(fig, (570, 1169, 1011, 1578), F_LABELS, F_CURVES, KEYS_10,
           "(f) Task 3: Random Forgeries", (765, 1650), "lower left",
           dict(fontsize=9, handlelength=2.5, labelspacing=0.27, borderpad=0.25))

fig.savefig("out.png", dpi=100)
